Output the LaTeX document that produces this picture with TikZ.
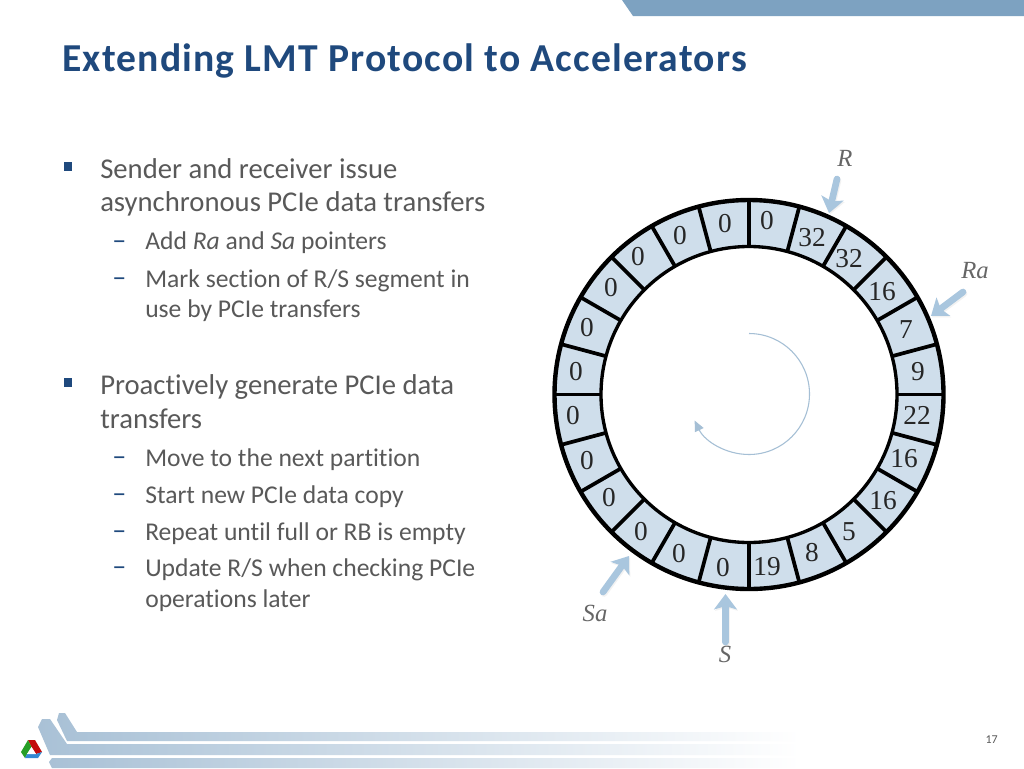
\documentclass[tikz,border=0pt]{standalone}
\usepackage{fontspec}
\setmainfont[Ligatures=NoCommon]{Carlito}
\newfontfamily\titlefont[LetterSpace=3,Ligatures=NoCommon]{Carlito}
\newfontfamily\serifnum{Liberation Serif}
\usetikzlibrary{arrows.meta,calc}
\definecolor{titleblue}{HTML}{1F497D}
\definecolor{bodygray}{HTML}{595959}
\definecolor{cellblue}{HTML}{CFDEEB}
\definecolor{arrowblue}{HTML}{A9C6DE}
\definecolor{bandblue}{HTML}{7DA2C1}
\definecolor{footblue}{HTML}{A9C1D6}
\definecolor{labelgray}{HTML}{666666}
\tikzset{
  lone/.style={anchor=base west,inner sep=0pt,text=bodygray,font=\fontsize{21.5}{24}\selectfont},
  ltwo/.style={anchor=base west,inner sep=0pt,text=bodygray,font=\fontsize{19.2}{22}\selectfont},
  dashmark/.style={anchor=base west,inner sep=0pt,text=titleblue,font=\fontsize{21}{24}\selectfont},
  bulletbox/.style={fill=titleblue,draw=none},
  num/.style={inner sep=0pt,text=black!85,font=\serifnum\fontsize{20.5}{22}\selectfont},
  ptr/.style={line width=5pt,draw=arrowblue,line cap=round,-{Stealth[length=11.5pt,width=17pt,inset=2.5pt]}},
  ptrshadow/.style={line width=5pt,draw=black,opacity=.05,line cap=round,-{Stealth[length=11.5pt,width=17pt,inset=2.5pt]}},
  ptrlabel/.style={inner sep=0pt,text=labelgray,font=\serifnum\itshape\fontsize{18.5}{20}\selectfont},
  foot/.style={left color=footblue,right color=white,draw=none},
}
\begin{document}
\begin{tikzpicture}[x=.75pt,y=.75pt]
\useasboundingbox (0,0) rectangle (1024,-768);
\fill[white] (0,0) rectangle (1024,-768);
% top band
\fill[bandblue] (622,0) -- (633,-16) -- (1024,-16) -- (1024,0) -- cycle;
% footer bars
\shade[foot] (57,-720) -- (59,-713) -- (65,-713) -- (77,-732) -- (800,-732) -- (800,-741) -- (67,-741) -- cycle;
\shade[foot] (38,-727) -- (42,-719) -- (50,-719) -- (67,-744) -- (800,-744) -- (800,-755) -- (50,-755) -- cycle;
\shade[foot] (49,-762) -- (52,-758) -- (800,-758) -- (800,-768) -- (52,-768) -- cycle;
% logo
\fill[red!75!black!95] (28,-740) -- (35,-740) -- (42,-752) -- (36,-754) -- (31.5,-747) -- cycle;
\fill[green!55!black!85] (28,-740) -- (21,-752) -- (25,-758) -- (27,-754) -- (31.5,-747) -- cycle;
\fill[cyan!60!blue!85] (25,-758) -- (38,-758) -- (42,-752) -- (36,-754) -- (27,-754) -- cycle;
\fill[white] (31.5,-747) -- (36,-754) -- (27,-754) -- cycle;
% title
\node[anchor=base west,inner sep=0pt,text=titleblue,font=\titlefont\bfseries\fontsize{29.7}{33}\selectfont] (title) at (62,-71) {Extending LMT Protocol to Accelerators};
% bullets
\fill[bulletbox] (64,-162) rectangle (72,-171);
\fill[bulletbox] (64,-378) rectangle (72,-387);
\node[lone] (t1) at (100,-178) {Sender and receiver issue};
\node[lone] (t2) at (100,-211) {asynchronous PCIe data transfers};
\node[dashmark] (d1) at (112,-249) {–};
\node[ltwo] (t3) at (145,-249) {Add \textit{Ra} and \textit{Sa} pointers};
\node[dashmark] (d2) at (112,-286) {–};
\node[ltwo] (t4) at (145,-287) {Mark section of R/S segment in};
\node[ltwo] (t5) at (145,-317) {use by PCIe transfers};
\node[lone] (t6) at (100,-394) {Proactively generate PCIe data};
\node[lone] (t7) at (100,-428) {transfers};
\node[dashmark] (d3) at (112,-465) {–};
\node[ltwo] (t8) at (145,-466) {Move to the next partition};
\node[dashmark] (d4) at (112,-502) {–};
\node[ltwo] (t9) at (145,-503) {Start new PCIe data copy};
\node[dashmark] (d5) at (112,-539) {–};
\node[ltwo] (t10) at (145,-540) {Repeat until full or RB is empty};
\node[dashmark] (d6) at (112,-575) {–};
\node[ltwo] (t11) at (145,-576) {Update R/S when checking PCIe};
\node[ltwo] (t12) at (145,-607) {operations later};
\node[anchor=base east,inner sep=0pt,text=bodygray,font=\fontsize{9}{10}\selectfont] (page) at (998,-743) {17};
% ring
\coordinate (ctr) at (749,-394.5);
\fill[cellblue,even odd rule] (ctr) circle[radius=194.5] (ctr) circle[radius=148];
\foreach \a in {0,15,...,345}
  \draw[line width=2.8pt] ($(ctr)+(\a:148)$) -- ($(ctr)+(\a:194.5)$);
\draw[line width=3.3pt] (ctr) circle[radius=194.5];
\draw[line width=2.5pt] (ctr) circle[radius=148];
% values
\foreach \x/\y/\v [count=\i] in {767/221/0,812/238/32,849/259/32,882/292/16,906/330/7,918/372/9,917/415/22,904/459/16,883/501/16,849/532/5,812/553/8,767/567/19,723/568/0,679/554/0,641/532/0,609/498/0,587/461/0,573/416/0,576/372/0,587/328/0,611/288/0,638/257/0,680/236/0,725/224/0}
  \node[num] (n\i) at (\x,-\y) {\v};
% rotation arrow
\coordinate (cyc) at (749,-394);
\draw[line width=.8pt,draw=arrowblue!90!gray,-{Stealth[length=8pt,width=7pt,inset=0pt]}] ($(cyc)+(90:60.5)$) arc[start angle=90,end angle=-154,radius=60.5];
% pointers
\coordinate (Rs) at (837,-179); \coordinate (Rt) at (829,-213);
\coordinate (Ras) at (963,-292); \coordinate (Rat) at (931,-316);
\coordinate (Sas) at (603,-592); \coordinate (Sat) at (629,-556);
\coordinate (Ss) at (725.5,-642); \coordinate (St) at (725.5,-594);
\foreach \p/\q in {Rs/Rt,Ras/Rat,Sas/Sat,Ss/St}{
  \draw[ptrshadow] ($(\p)+(1,-1.5)$) -- ($(\q)+(1,-1.5)$);
  \draw[ptr] (\p) -- (\q);
}
\node[ptrlabel] (lR) at (845,-158) {R};
\node[ptrlabel] (lRa) at (975,-271) {Ra};
\node[ptrlabel] (lSa) at (595,-613) {Sa};
\node[ptrlabel] (lS) at (725,-654) {S};
\end{tikzpicture}
\end{document}
